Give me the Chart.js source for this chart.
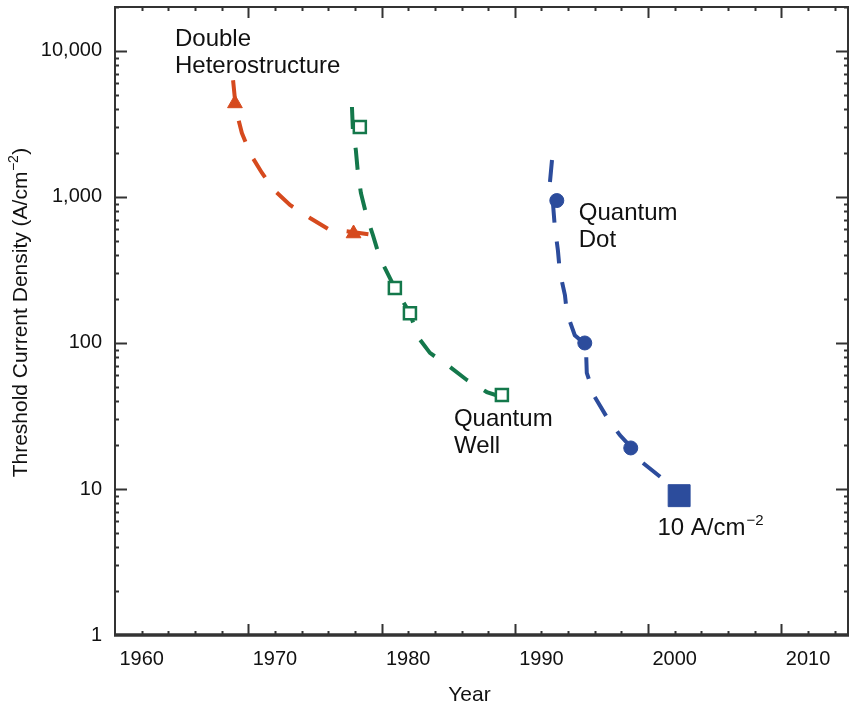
<!DOCTYPE html>
<html><head><meta charset="utf-8">
<script src="https://cdn.jsdelivr.net/npm/chart.js@4.4.1/dist/chart.umd.min.js"></script>
<style>html,body{margin:0;padding:0;background:#fff}canvas{display:block}</style>
</head><body>
<canvas id="c" width="852" height="707" style="width:852px;height:707px"></canvas>
<script>
// ---- data (years, threshold current density A/cm^-2) ----
const dhYears  = [1966.86, 1967.08, 1967.52, 1968.2, 1969.03, 1969.85, 1971.13, 1972.63, 1973.98, 1975.78, 1977.35];
const dhValues = [6300, 3940, 2740, 1940, 1460, 1135, 881, 718, 604, 576, 549];
const dhMarkerYears  = [1967.0, 1975.9];
const dhMarkerValues = [4370, 562];

const qwYears  = [1975.78, 1975.85, 1976.07, 1976.22, 1976.45, 1976.9, 1977.35, 1977.87, 1979.0, 1980.13, 1980.73, 1981.63, 1983.13, 1984.4, 1985.9, 1987.03, 1988.6];
const qwValues = [4130, 2880, 2100, 1483, 1065, 729, 549, 382, 238, 160, 110, 85.5, 68.5, 55.8, 46.1, 42.7, 40.1];
const qwMarkerYears  = [1976.37, 1979.0, 1980.13, 1987.03];
const qwMarkerValues = [3015, 238, 160, 44];

const qdYears  = [1990.79, 1990.63, 1990.86, 1991.0, 1991.23, 1991.38, 1991.76, 1991.91, 1992.5, 1993.33, 1993.4, 1994.0, 1994.9, 1995.88, 1996.78, 1997.6, 1999.48, 2000.3];
const qdValues = [1790, 1247, 910, 624, 434, 306, 213, 160, 113, 97, 62.3, 42.7, 31.1, 23.4, 19.1, 15.1, 11.0, 9.1];
const qdCircleYears  = [1991.15, 1993.25, 1996.7];
const qdCircleValues = [945, 100, 19.1];
const qdSquareYears  = [2000.33];
const qdSquareValues = [9.0];

// ---- axis ticks ----
const xTickLabels = [1960, 1970, 1980, 1990, 2000, 2010];
const xMajorTicks = [1968, 1978, 1988, 1998, 2008];
const xMinorTicks = [1960, 1962, 1964, 1966, 1970, 1972, 1974, 1976, 1980, 1982, 1984, 1986, 1990, 1992, 1994, 1996, 2000, 2002, 2004, 2006, 2010, 2012];
const yTickLabels = [1, 10, 100, 1000, 10000];
const yMinorMultipliers = [2, 3, 4, 5, 6, 7, 8, 9];

// ---- annotation texts ----
const annotations = [
  { lines: ['Double', 'Heterostructure'], year: 1962.5, value: 10820 },
  { lines: ['Quantum', 'Dot'], year: 1992.8, value: 695 },
  { lines: ['Quantum', 'Well'], year: 1983.43, value: 27.0 }
];
const unitLabel = { text: '10 A/cm', sup: '\u22122', year: 1998.7, value: 4.84 };
const xTitle = 'Year';
const yTitle = { text: 'Threshold Current Density (A/cm', sup: '\u22122', tail: ')' };

const FONT = '"Liberation Sans", Arial, Helvetica, sans-serif';
const DH = '#d64a1e', QW = '#14784b', QD = '#2c4c9c', AX = '#333333';

const pts = (xs, ys) => xs.map((x, i) => ({ x, y: ys[i] }));

const framePlugin = {
  id: 'frame',
  afterDraw(chart) {
    const { ctx, chartArea: a, scales: { x, y } } = chart;
    ctx.save();
    ctx.strokeStyle = AX;
    ctx.lineCap = 'butt';
    ctx.lineWidth = 2;
    ctx.beginPath();
    ctx.moveTo(a.left, a.bottom); ctx.lineTo(a.left, a.top); ctx.lineTo(a.right, a.top); ctx.lineTo(a.right, a.bottom);
    ctx.stroke();
    ctx.lineWidth = 3.5;
    ctx.beginPath(); ctx.moveTo(a.left - 1, a.bottom); ctx.lineTo(a.right + 1, a.bottom); ctx.stroke();
    ctx.lineWidth = 2;
    const xt = (vals, len) => vals.forEach(v => {
      const px = Math.round(x.getPixelForValue(v)) + 0.5;
      ctx.beginPath(); ctx.moveTo(px, a.bottom); ctx.lineTo(px, a.bottom - len); ctx.stroke();
      ctx.beginPath(); ctx.moveTo(px, a.top); ctx.lineTo(px, a.top + len); ctx.stroke();
    });
    xt(xMajorTicks, 11); xt(xMinorTicks, 4);
    const yt = (v, len) => {
      const py = Math.round(y.getPixelForValue(v)) + 0.5;
      ctx.beginPath(); ctx.moveTo(a.left, py); ctx.lineTo(a.left + len, py); ctx.stroke();
      ctx.beginPath(); ctx.moveTo(a.right, py); ctx.lineTo(a.right - len, py); ctx.stroke();
    };
    yTickLabels.forEach(d => {
      if (d > 1) yt(d, 12);
      yMinorMultipliers.forEach(m => { const v = d * m; if (v <= y.max) yt(v, 4); });
    });
    ctx.restore();
  }
};

const textPlugin = {
  id: 'texts',
  afterDraw(chart) {
    const { ctx, chartArea: a, scales: { x, y } } = chart;
    ctx.save();
    ctx.fillStyle = '#111';
    ctx.textBaseline = 'alphabetic';
    ctx.textAlign = 'left';
    ctx.font = '24px ' + FONT;
    annotations.forEach(an => {
      const px = x.getPixelForValue(an.year), py = y.getPixelForValue(an.value);
      an.lines.forEach((l, i) => ctx.fillText(l, px, py + i * 27));
    });
    {
      const px = x.getPixelForValue(unitLabel.year), py = y.getPixelForValue(unitLabel.value);
      ctx.font = '24px ' + FONT;
      ctx.fillText(unitLabel.text, px, py);
      const w = ctx.measureText(unitLabel.text).width;
      ctx.font = '15px ' + FONT;
      ctx.fillText(unitLabel.sup, px + w + 1, py - 10);
    }
    ctx.font = '21px ' + FONT;
    ctx.textAlign = 'center';
    ctx.fillText(xTitle, a.left + 354.5, 701);
    ctx.translate(27, 312.5);
    ctx.rotate(-Math.PI / 2);
    ctx.textAlign = 'left';
    ctx.font = '21px ' + FONT;
    const w1 = ctx.measureText(yTitle.text).width;
    ctx.font = '14px ' + FONT;
    const w2 = ctx.measureText(yTitle.sup).width;
    ctx.font = '21px ' + FONT;
    const w3 = ctx.measureText(yTitle.tail).width;
    const start = -(w1 + w2 + w3 + 1) / 2;
    ctx.fillText(yTitle.text, start, 0);
    ctx.font = '14px ' + FONT;
    ctx.fillText(yTitle.sup, start + w1 + 0.5, -9);
    ctx.font = '21px ' + FONT;
    ctx.fillText(yTitle.tail, start + w1 + w2 + 1, 0);
    ctx.restore();
  }
};

const lineDs = (label, xs, ys, color) => ({
  label, data: pts(xs, ys), showLine: true, borderColor: color, borderWidth: 4,
  borderDash: [22, 19], borderCapStyle: 'butt', pointRadius: 0, pointHoverRadius: 0, fill: false, tension: 0, order: 2
});
const markDs = (label, xs, ys, style, r, fillC, borderC, bw) => ({
  label, data: pts(xs, ys), showLine: false, pointStyle: style, pointRadius: r, pointHoverRadius: r,
  backgroundColor: fillC, borderColor: borderC, pointBorderWidth: bw, borderWidth: bw, order: 1
});

new Chart(document.getElementById('c'), {
  type: 'scatter',
  data: {
    datasets: [
      lineDs('Double Heterostructure', dhYears, dhValues, DH),
      lineDs('Quantum Well', qwYears, qwValues, QW),
      lineDs('Quantum Dot', qdYears, qdValues, QD),
      markDs('DH markers', dhMarkerYears, dhMarkerValues, 'triangle', 8.5, DH, DH, 1),
      markDs('QW markers', qwMarkerYears, qwMarkerValues, 'rect', 8.5, '#ffffff', QW, 2.5),
      markDs('QD markers', qdCircleYears, qdCircleValues, 'circle', 7, QD, QD, 1),
      markDs('QD 10 A/cm2', qdSquareYears, qdSquareValues, 'rect', 15.5, QD, QD, 1)
    ]
  },
  options: {
    responsive: false, animation: false, devicePixelRatio: 1,
    layout: { autoPadding: false, padding: { top: 7, right: 4, left: 0, bottom: 0 } },
    plugins: { legend: { display: false }, tooltip: { enabled: false } },
    scales: {
      x: {
        type: 'linear', min: 1958, max: 2013,
        afterBuildTicks: s => { s.ticks = xTickLabels.map(v => ({ value: v })); },
        afterFit: s => { s.height = 72; s.paddingLeft = 0; s.paddingRight = 0; },
        ticks: { autoSkip: false, maxRotation: 0, padding: 12, color: '#111', font: { family: FONT, size: 20 }, callback: v => String(v) },
        grid: { display: false, drawTicks: false },
        border: { display: false }
      },
      y: {
        type: 'logarithmic', min: 1, max: 20000,
        afterBuildTicks: s => { s.ticks = yTickLabels.map(v => ({ value: v })); },
        afterFit: s => { s.width = 115; s.paddingTop = 0; s.paddingBottom = 0; },
        ticks: { autoSkip: false, padding: 13, color: '#111', font: { family: FONT, size: 20 }, callback: v => Number(v).toLocaleString('en-US') },
        grid: { display: false, drawTicks: false },
        border: { display: false }
      }
    }
  },
  plugins: [framePlugin, textPlugin]
});
</script>
</body></html>
